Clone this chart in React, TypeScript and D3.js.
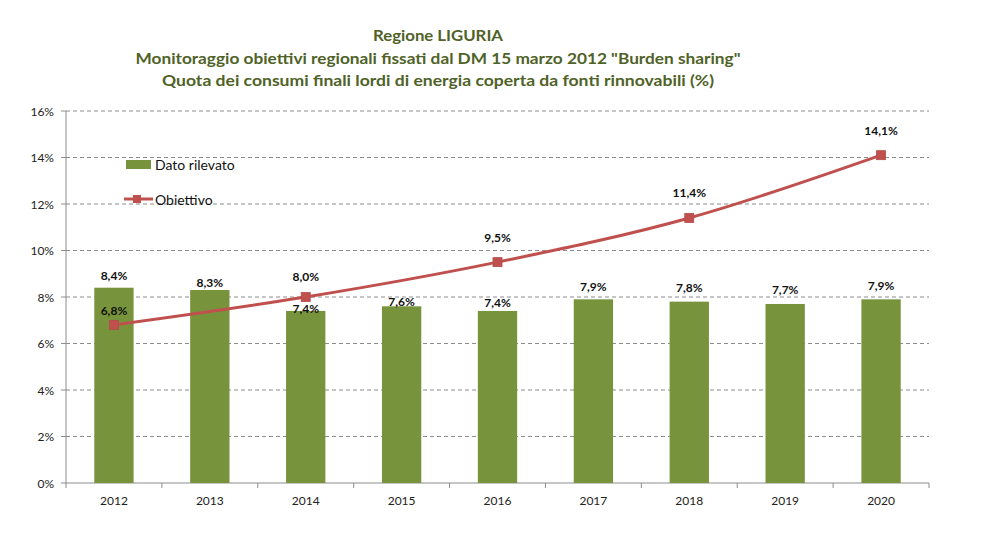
import React, { useRef, useEffect } from 'react'
import { select, scaleBand, scaleLinear, line, curveCardinal, range } from 'd3'

const years = ['2012', '2013', '2014', '2015', '2016', '2017', '2018', '2019', '2020']
const datoRilevato = [8.4, 8.3, 7.4, 7.6, 7.4, 7.9, 7.8, 7.7, 7.9]
const obiettivo: (number | null)[] = [6.8, null, 8.0, null, 9.5, null, 11.4, null, 14.1]
const yTicks = [0, 2, 4, 6, 8, 10, 12, 14, 16]
const titleLines = [
  'Regione LIGURIA',
  'Monitoraggio obiettivi regionali fissati dal DM 15 marzo 2012 "Burden sharing"',
  'Quota dei consumi finali lordi di energia coperta da fonti rinnovabili (%)'
]

// label nudges (px above the mark), as placed in the original
const barLabelDy = [12, 8, 2, 5, 8, 13, 14, 14, 14]
const lineLabelDy = [14, 0, 21, 0, 25, 0, 25, 0, 25]

const W = 990
const H = 549
const margins = { top: 111, right: 61, bottom: 66, left: 66 }
const FONT = 'Lato, "Open Sans", sans-serif'
const GREEN = '#77933c'
const RED = '#c0504d'
const GRID = '#8c8c8c'

const fmt = (v: number) => v.toFixed(1).replace('.', ',') + '%'

const App = () => {
  const ref = useRef<SVGSVGElement>(null)

  useEffect(() => {
    if (ref.current === null) return
    const svg = select(ref.current)
    svg.selectAll('*').remove()

    const x0 = margins.left
    const x1 = W - margins.right
    const yBottom = H - margins.bottom
    const yTop = margins.top

    const xBand = scaleBand().domain(years).range([x0, x1]).paddingInner(0.59).paddingOuter(0.295)
    const xCell = scaleBand().domain(years).range([x0, x1])
    const y = scaleLinear().domain([0, 16]).range([yBottom, yTop])
    const cx = (i: number) => (xCell(years[i]) as number) + xCell.bandwidth() / 2

    svg.append('rect').attr('width', W).attr('height', H).attr('fill', '#fff')

    // title
    const title = svg.append('g')
    titleLines.forEach((t, i) => {
      title.append('text')
        .attr('x', 438)
        .attr('y', 35 + i * 22.5)
        .attr('text-anchor', 'middle')
        .attr('dominant-baseline', 'central')
        .attr('font-family', FONT)
        .attr('font-weight', 'bold')
        .attr('font-size', 15.5)
        .attr('fill', '#4f6228')
        .attr('textLength', [130, 605, 552][i])
        .attr('lengthAdjust', 'spacingAndGlyphs')
        .text(t)
    })

    // grid + y axis
    const axes = svg.append('g')
    yTicks.forEach((t) => {
      if (t > 0) {
        axes.append('line')
          .attr('x1', x0).attr('x2', x1)
          .attr('y1', y(t)).attr('y2', y(t))
          .attr('stroke', GRID).attr('stroke-width', 1)
          .attr('stroke-dasharray', '4,3')
      }
      axes.append('line')
        .attr('x1', x0 - 5).attr('x2', x0)
        .attr('y1', y(t)).attr('y2', y(t))
        .attr('stroke', GRID)
      axes.append('text')
        .attr('x', 54).attr('y', y(t))
        .attr('text-anchor', 'end')
        .attr('dominant-baseline', 'central')
        .attr('font-family', FONT).attr('font-size', 12)
        .attr('fill', '#222')
        .text(t + '%')
    })
    axes.append('line')
      .attr('x1', x0).attr('x2', x0)
      .attr('y1', yTop).attr('y2', yBottom)
      .attr('stroke', GRID)

    // bars
    const body = svg.append('g')
    body.selectAll('rect.bar').data(datoRilevato).enter()
      .append('rect')
      .attr('class', 'bar')
      .attr('x', (_d, i) => xBand(years[i]) as number)
      .attr('y', (d) => y(d))
      .attr('width', xBand.bandwidth())
      .attr('height', (d) => yBottom - y(d))
      .attr('fill', GREEN)

    // x axis
    axes.append('line')
      .attr('x1', x0).attr('x2', x1)
      .attr('y1', yBottom).attr('y2', yBottom)
      .attr('stroke', GRID)
    range(years.length + 1).forEach((i) => {
      const xx = x0 + i * xCell.step()
      axes.append('line')
        .attr('x1', xx).attr('x2', xx)
        .attr('y1', yBottom).attr('y2', yBottom + 5)
        .attr('stroke', GRID)
    })
    years.forEach((yr, i) => {
      axes.append('text')
        .attr('x', cx(i)).attr('y', 500)
        .attr('text-anchor', 'middle')
        .attr('dominant-baseline', 'central')
        .attr('font-family', FONT).attr('font-size', 12)
        .attr('fill', '#222')
        .text(yr)
    })

    // objective line
    const pts = obiettivo
      .map((v, i) => ({ i, v }))
      .filter((d) => d.v !== null) as { i: number, v: number }[]
    const path = line<{ i: number, v: number }>()
      .x((d) => cx(d.i))
      .y((d) => y(d.v))
      .curve(curveCardinal.tension(0))
    body.append('path')
      .attr('d', path(pts))
      .attr('fill', 'none')
      .attr('stroke', RED)
      .attr('stroke-width', 3)
    body.selectAll('rect.mk').data(pts).enter()
      .append('rect')
      .attr('class', 'mk')
      .attr('x', (d) => cx(d.i) - 4.5)
      .attr('y', (d) => y(d.v) - 4.5)
      .attr('width', 9).attr('height', 9)
      .attr('fill', RED)
      .attr('stroke', '#b44a47').attr('stroke-width', 0.8)

    // data labels
    const labels = svg.append('g')
      .attr('font-family', FONT).attr('font-weight', 'bold')
      .attr('font-size', 12).attr('fill', '#111')
      .attr('text-anchor', 'middle')
    datoRilevato.forEach((v, i) => {
      labels.append('text')
        .attr('x', cx(i)).attr('y', y(v) - barLabelDy[i])
        .attr('dominant-baseline', 'central')
        .text(fmt(v))
    })
    pts.forEach((d) => {
      labels.append('text')
        .attr('x', cx(d.i)).attr('y', y(d.v) - lineLabelDy[d.i])
        .attr('dominant-baseline', 'central')
        .text(fmt(d.v))
    })

    // legend
    const legend = svg.append('g')
    legend.append('rect')
      .attr('x', 126).attr('y', 160).attr('width', 25).attr('height', 9)
      .attr('fill', GREEN)
    legend.append('line')
      .attr('x1', 124).attr('x2', 153).attr('y1', 199).attr('y2', 199)
      .attr('stroke', RED).attr('stroke-width', 3)
    legend.append('rect')
      .attr('x', 133).attr('y', 195).attr('width', 8).attr('height', 8)
      .attr('fill', RED)
    ;[['Dato rilevato', 164], ['Obiettivo', 199]].forEach(([t, yy]) => {
      legend.append('text')
        .attr('x', 155).attr('y', yy as number)
        .attr('dominant-baseline', 'central')
        .attr('font-family', FONT).attr('font-size', 14)
        .attr('fill', '#111')
        .text(t as string)
    })
  }, [])

  return (
    <div style={{ position: 'absolute', left: 0, top: 0 }}>
      <svg ref={ref} width={W} height={H}></svg>
    </div>
  )
}

export default App
